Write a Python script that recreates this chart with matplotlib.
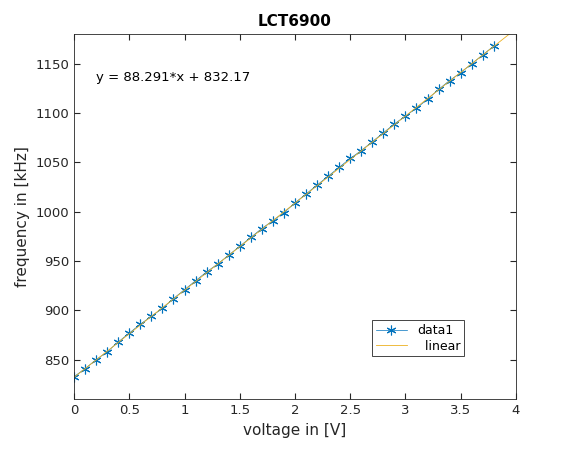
import matplotlib
matplotlib.use("Agg")
import matplotlib.pyplot as plt
import numpy as np

voltage = [0.0,0.1,0.2,0.3,0.4,0.5,0.6,0.7,0.8,0.9,1.0,1.1,1.2,1.3,1.4,1.5,1.6,1.7,1.8,1.9,
           2.0,2.1,2.2,2.3,2.4,2.5,2.6,2.7,2.8,2.9,3.0,3.1,3.2,3.3,3.4,3.5,3.6,3.7,3.8]
freq = [832.8,841,850,858,868,877,886,894,902,912,921,930,939,947,956,965,974,983,991,999,
        1009,1018,1027,1036,1045,1054,1062,1071,1080,1089,1097,1105,1114,1124,1133,1141,1150,1159,1168]
slope, intercept = 88.291, 832.17
fit_x = [0.0, 4.0]

fig = plt.figure(figsize=(5.7, 4.5), dpi=100)
ax = fig.add_axes([0.13, 0.113, 0.775, 0.811])
ax.plot(voltage, freq, color='#0072BD', marker=(6, 2, 0), markersize=7, markeredgewidth=0.8,
        linewidth=0.5, label='data1')
fx = np.array(fit_x)
ax.plot(fx, slope*fx + intercept, color='#EDB120', linewidth=0.6, label='  linear')
ax.set_xlim(0, 4)
ax.set_ylim(810, 1180)
ax.set_xticks(np.arange(0, 4.01, 0.5))
ax.set_xticklabels(['0','0.5','1','1.5','2','2.5','3','3.5','4'])
ax.set_yticks(range(850, 1151, 50))
ax.tick_params(direction='in', labelsize=9.5, top=True, right=True, length=4, colors='#262626')
for s in ax.spines.values():
    s.set_linewidth(0.6); s.set_color('#262626')
ax.set_xlabel('voltage in [V]', fontsize=11, color='#262626')
ax.set_ylabel('frequency in [kHz]', fontsize=11, color='#262626')
ax.set_title('LCT6900', fontsize=11, fontweight='bold')
ax.text(0.2, 1133, 'y = 88.291*x + 832.17', fontsize=9.5)
leg = ax.legend(loc='lower left', bbox_to_anchor=(0.66, 0.1), fontsize=9, fancybox=False,
                edgecolor='#262626', framealpha=1, borderpad=0.3, handlelength=2.5, labelspacing=0.2)
leg.get_frame().set_linewidth(0.6)
fig.savefig('out.png', dpi=100)
